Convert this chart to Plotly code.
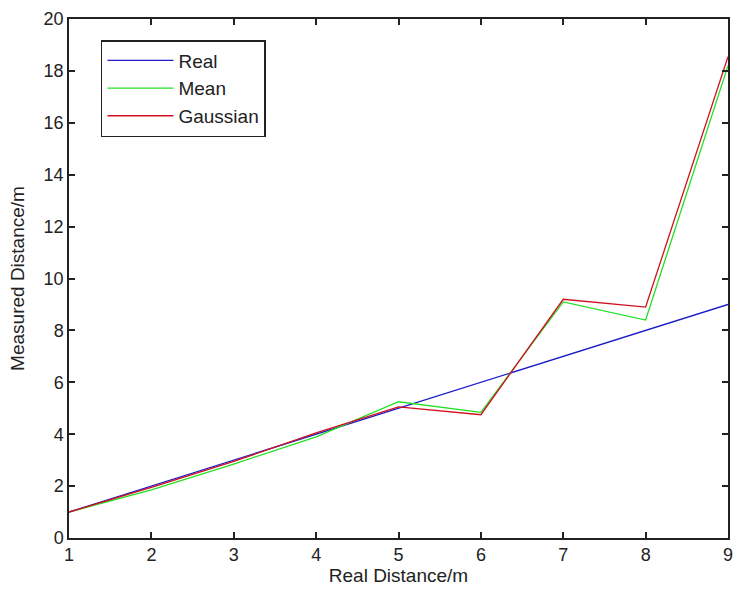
import plotly.graph_objects as go

real_distance = [1, 2, 3, 4, 5, 6, 7, 8, 9]
real_values = [1, 2, 3, 4, 5, 6, 7, 8, 9]
mean_values = [1.0, 1.85, 2.85, 3.9, 5.25, 4.84, 9.1, 8.4, 18.2]
gaussian_values = [1.0, 1.95, 2.95, 4.05, 5.05, 4.75, 9.2, 8.9, 18.55]

fig = go.Figure()
fig.add_trace(go.Scatter(x=real_distance, y=real_values, mode="lines", name="Real",
                         line=dict(color="#1c1cc8", width=1.3)))
fig.add_trace(go.Scatter(x=real_distance, y=mean_values, mode="lines", name="Mean",
                         line=dict(color="#22e022", width=1.3)))
fig.add_trace(go.Scatter(x=real_distance, y=gaussian_values, mode="lines", name="Gaussian",
                         line=dict(color="#d01020", width=1.3)))

axis_common = dict(showline=True, linecolor="#222", linewidth=1.5, mirror="allticks",
                   ticks="inside", ticklen=6, tickcolor="#222", tickwidth=1.5,
                   showgrid=False, zeroline=False, automargin=False,
                   ticklabeloverflow="allow",
                   tickfont=dict(family="Liberation Sans", size=18, color="#222"))

fig.update_xaxes(range=[1, 9], dtick=1, tick0=1,
                 title=dict(text="Real Distance/m", standoff=3,
                            font=dict(family="Liberation Sans", size=19, color="#222")),
                 **axis_common)
fig.update_yaxes(range=[0, 20], dtick=2, tick0=0,
                 title=dict(text="Measured Distance/m", standoff=14,
                            font=dict(family="Liberation Sans", size=19, color="#222")),
                 **axis_common)

fig.update_layout(
    width=734, height=591,
    margin=dict(l=69, r=6, t=19, b=53),
    paper_bgcolor="white", plot_bgcolor="white",
    showlegend=True,
    legend=dict(x=0.0485, y=0.9595, xanchor="left", yanchor="top",
                bordercolor="#222", borderwidth=1.5, bgcolor="white",
                itemwidth=66, tracegroupgap=0,
                font=dict(family="Liberation Sans", size=19, color="#222")),
)

fig.write_html("out.html")
